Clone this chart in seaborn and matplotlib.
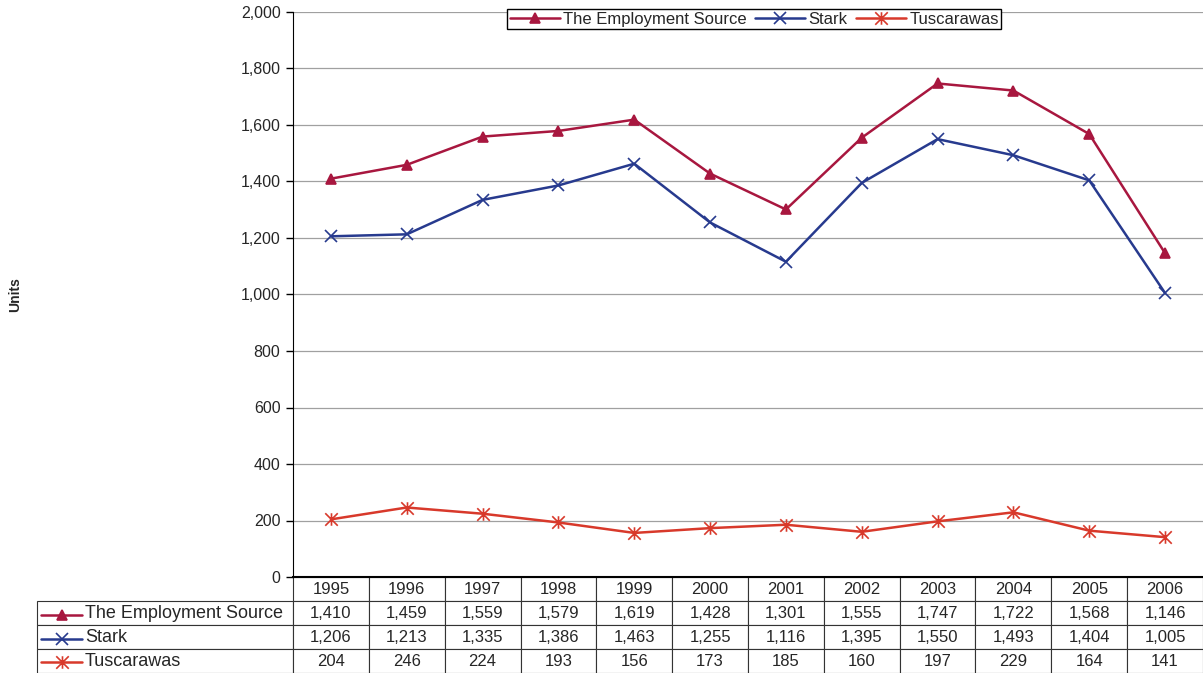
import pandas as pd
import matplotlib
matplotlib.use("Agg")
import matplotlib.pyplot as plt
from matplotlib.path import Path
import seaborn as sns

years = [1995, 1996, 1997, 1998, 1999, 2000, 2001, 2002, 2003, 2004, 2005, 2006]
employment_source = [1410, 1459, 1559, 1579, 1619, 1428, 1301, 1555, 1747, 1722, 1568, 1146]
stark = [1206, 1213, 1335, 1386, 1463, 1255, 1116, 1395, 1550, 1493, 1404, 1005]
tuscarawas = [204, 246, 224, 193, 156, 173, 185, 160, 197, 229, 164, 141]
series_names = ["The Employment Source", "Stark", "Tuscarawas"]

# excel style star: an x with a vertical bar through it
star = Path([(0, -1), (0, 1), (-1, -1), (1, 1), (-1, 1), (1, -1)],
            [Path.MOVETO, Path.LINETO, Path.MOVETO, Path.LINETO, Path.MOVETO, Path.LINETO])

colors = {"The Employment Source": "#A8173F", "Stark": "#273A8E", "Tuscarawas": "#D8392B"}
markers = {"The Employment Source": "^", "Stark": "x", "Tuscarawas": star}
msizes = {"The Employment Source": 7, "Stark": 8, "Tuscarawas": 9}

df = pd.DataFrame({
    "year": years * 3,
    "units": employment_source + stark + tuscarawas,
    "series": sum([[n] * len(years) for n in series_names], []),
})

sns.set_style("white")
plt.rcParams["font.family"] = ["Liberation Sans", "DejaVu Sans"]

fig = plt.figure(figsize=(12.03, 6.73), dpi=100)
ax = fig.add_axes([293 / 1203, 1 - 577 / 673, 910 / 1203, 565 / 673])

for n in series_names:
    sns.lineplot(data=df[df["series"] == n], x="year", y="units", color=colors[n],
                 marker=markers[n], markersize=msizes[n], linewidth=1.8, markeredgewidth=1.2,
                 markeredgecolor=colors[n], ax=ax)

ax.set_xlim(years[0] - 0.5, years[-1] + 0.5)
ax.set_ylim(0, 2000)
ax.set_yticks(range(0, 2001, 200))
ax.set_yticklabels([f"{v:,}" for v in range(0, 2001, 200)], fontsize=11.5)
ax.set_xticks([])
ax.set_xlabel("")
ax.grid(axis="y", color="#A0A0A0", linewidth=0.9)
ax.tick_params(axis="y", left=True, length=5, width=1, color="black", pad=4)
for side in ["top", "right"]:
    ax.spines[side].set_visible(False)
ax.spines["left"].set_color("black")
ax.spines["bottom"].set_color("black")
ax.spines["bottom"].set_linewidth(1.5)

ax.set_ylabel("Units", fontsize=10, fontweight="bold")
ax.yaxis.set_label_coords(-(293 - 22) / 910, 0.5)

# legend
handles = [plt.Line2D([], [], color=colors[n], marker=markers[n], markersize=msizes[n],
                      markeredgewidth=1.2, linewidth=1.8) for n in series_names]
leg = ax.legend(handles, series_names, loc="upper center", bbox_to_anchor=(0.507, 1.005),
                ncol=3, fancybox=False, edgecolor="black", framealpha=1, fontsize=12,
                handlelength=3.0, handletextpad=0.2, columnspacing=0.5,
                borderpad=0.15, borderaxespad=0)
leg.get_frame().set_linewidth(1)

# data table under the chart (bbox covers the year columns, labels sit to the left)
label_w = (293 - 37) / 910
tab_h = (673 - 577) / 565
cell_text = [[f"{v:,}" for v in employment_source],
             [f"{v:,}" for v in stark],
             [f"{v:,}" for v in tuscarawas]]
table = ax.table(cellText=cell_text, rowLabels=series_names,
                 colLabels=[str(y) for y in years], cellLoc="center", rowLoc="left",
                 bbox=[0, -tab_h, 1, tab_h])
table._autoColumns = []
table.auto_set_font_size(False)
table.set_fontsize(12)
for (r, c), cell in table.get_celld().items():
    cell.set_edgecolor("#333333")
    cell.set_linewidth(0.8)
    if c == -1:
        cell.set_width(label_w)
        cell.PAD = 48 / 256
        cell.set_text_props(fontsize=13)
    else:
        cell.set_width(1 / 12)

# legend keys inside the row label cells
row_centers = [(603 + 627) / 2, (628 + 650) / 2, (651 + 672) / 2]
for n, yc in zip(series_names, row_centers):
    yy = (577 - yc) / 565
    ax.plot([-(293 - 41) / 910, -(293 - 82) / 910], [yy, yy], color=colors[n], linewidth=1.8,
            transform=ax.transAxes, clip_on=False)
    ax.plot([-(293 - 61.5) / 910], [yy], color=colors[n], marker=markers[n], markersize=msizes[n],
            markeredgewidth=1.2, linestyle="none", transform=ax.transAxes, clip_on=False)

fig.savefig("out.png", dpi=100)
